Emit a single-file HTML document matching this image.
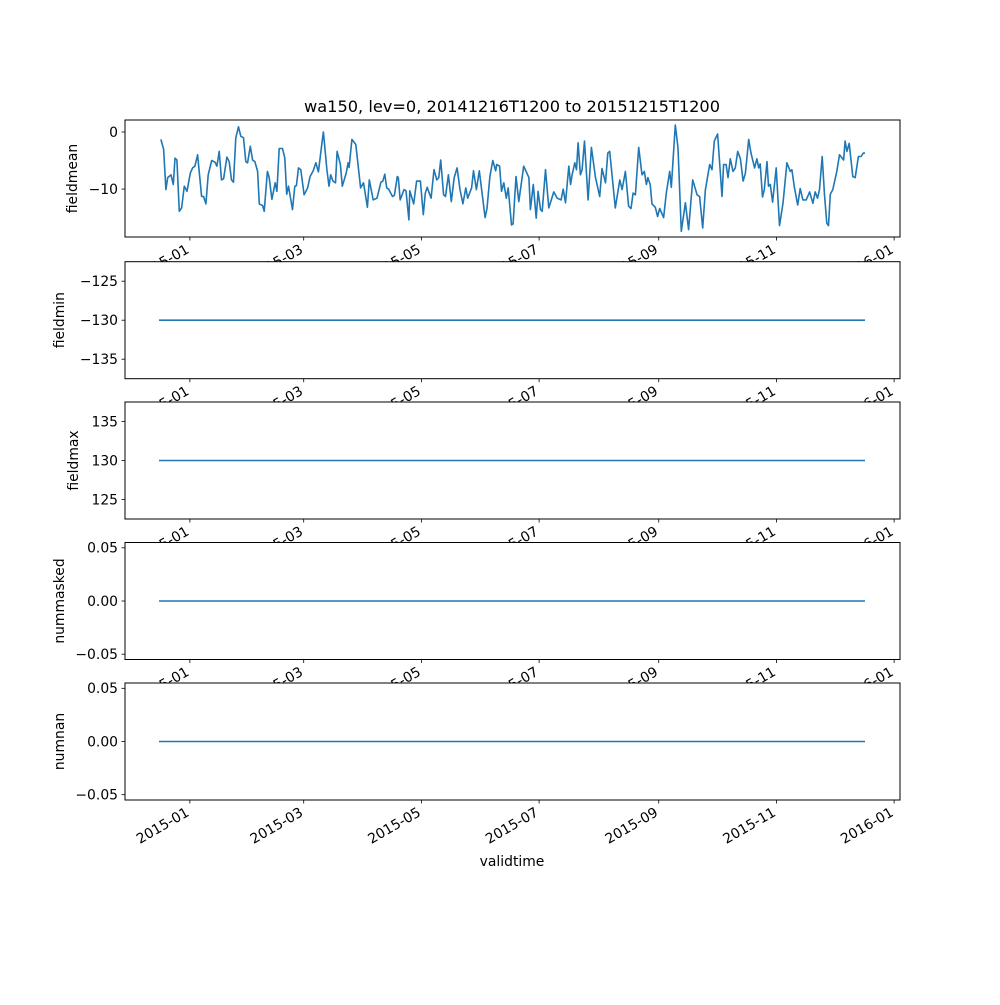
<!DOCTYPE html>
<html><head><meta charset="utf-8"><style>
html,body{margin:0;padding:0;background:#fff}
svg text{font-family:"DejaVu Sans","Liberation Sans",sans-serif;fill:#000}
</style></head><body>
<svg id="fig" width="1000" height="1000" viewBox="0 0 1000 1000">
<rect width="1000" height="1000" fill="#fff"/>
<text x="512" y="112" font-size="16.2" text-anchor="middle">wa150, lev=0, 20141216T1200 to 20151215T1200</text>
</svg>
<script>
// day offsets from 2014-12-16 and fieldmean values
const meanDays=[1,2.4,3.6,4.5,6.2,7.4,8.3,9.3,10.5,11.7,13.1,14.5,16.2,17.4,18.6,20,22.1,23.1,24.3,25.5,27.3,29,30,31.2,32.4,33.5,35.2,36.4,37.6,38.6,39.8,41.2,42.4,43.8,45,45.9,47.3,48.5,49.7,51.1,52,53.7,54.5,56.2,57.1,58.5,60.2,61.1,62.3,64,65.2,66.2,67.1,69.2,70.4,71.2,72.3,73.5,75.2,77,78.3,79.9,81.3,82.6,84.7,85.2,87,88.1,89,90.2,91.5,92.3,94,95,97,98,98.5,100,102,104.5,106,108,109,111,113,115,116,117,118,119,121,122,123.5,124,125,127,128,129.5,130,132,133.5,135.5,137,138,139,141,142.5,144,145,146,147.5,148.5,150,151.5,153,154.5,156,157.5,159,160,162,163,164.5,166,169,170,171.5,173,174.5,175,176.5,177.5,178.7,180,181,182.7,183.5,185,186.5,189,191.7,192.5,194,195.5,196.5,197.7,198.6,200.3,202,204.6,206.4,208.4,209.5,210.7,212.4,213.3,214.1,215.5,216.4,217.2,218.4,219.3,220.5,222.4,224.1,226.2,228.4,229.6,231.4,232.6,233.6,236.5,238.8,240,241.7,243.4,244.6,245.7,246.9,248.6,250.3,251.5,252.6,253.4,254.6,255.5,257.2,258.4,259.5,261.5,262.9,264.7,265.5,267.6,269,270.7,272.8,274.5,276.6,278.9,280.2,281.8,283.2,285.4,286.6,287.8,289.5,291.8,292.6,293.9,294.9,296.1,297.5,298.7,299.9,301.3,302.7,303.9,305.6,306.8,308.7,309.9,310.8,311.6,312.8,313.7,315.1,315.9,316.8,318,319.9,321.6,323.4,325.4,327.2,328,329.2,331,332.3,333.7,335.4,337.2,338.9,340.1,341.3,342.3,343.7,344.9,346.1,347,347.9,349.2,351.3,352.7,354.8,355.6,356.5,357.7,359.6,360.8,362.5,363.9,365,365.9];
const meanVals=[-1.3,-3,-10.1,-8,-7.5,-9.2,-4.6,-4.9,-13.9,-13.3,-9.5,-10.4,-7.2,-6.3,-6,-4,-11.3,-11.3,-12.6,-7.5,-5,-5.3,-6,-3.4,-8.4,-8.2,-4.4,-5.2,-8.4,-8.8,-1,0.9,-0.75,-1,-5.2,-5.4,-2.5,-4.9,-5.2,-6.9,-12.6,-12.9,-13.9,-6.9,-8,-11.8,-8.9,-10.4,-2.9,-2.9,-4.6,-10.9,-9.5,-13.6,-9.5,-9.4,-6.3,-6.6,-11,-9.8,-7.8,-6.8,-5.4,-7,-1.3,0,-6.6,-9.5,-7.5,-8.6,-8.9,-3.4,-5.7,-9.5,-7.2,-5.4,-6.2,-1.3,-2.2,-9.8,-8.9,-13.2,-8.4,-11.9,-11.6,-8.8,-8.6,-7.4,-9.8,-10,-11.3,-11.1,-7.8,-8,-11.9,-10.1,-10.3,-15.4,-10.3,-12.6,-8.6,-8.6,-14.5,-10.7,-9.7,-11.6,-6.6,-8.4,-8,-4.9,-11,-11.3,-7.5,-12.2,-8,-6.3,-10.1,-12.6,-9.8,-11.6,-9.8,-6.8,-10.1,-6.8,-15,-13.4,-7.8,-5,-6.8,-5.7,-6,-10.4,-8.9,-11.6,-9.8,-16.3,-16.1,-7.8,-12.2,-6,-8,-13.6,-9.2,-15.1,-10.4,-13.6,-13.9,-6.6,-13.3,-10.5,-11.6,-11.9,-10,-12.4,-6,-9.2,-7.5,-5.4,-6.6,-1.9,-7.5,-6.6,-1.6,-11.9,-2.7,-8,-11.3,-6.4,-8.9,-3.7,-3.4,-13.3,-8.4,-10.1,-6.9,-13,-13.4,-10.7,-11,-2.7,-7.5,-6.9,-9.2,-8,-9.2,-12.6,-13.2,-14.8,-13.4,-15,-10.7,-6.9,-9.7,1.2,-2.8,-17.4,-12.4,-17.1,-8.4,-11,-11.3,-16.8,-10.1,-5.7,-6.6,-1.6,-0.35,-11.3,-5.7,-5.7,-8,-4.7,-6.9,-6.3,-3.4,-4.7,-8.6,-7.2,-1.3,-3.7,-6.3,-4.7,-6.3,-5.6,-11.4,-10.1,-5.2,-9.5,-9.2,-12.3,-6.3,-16.4,-12.5,-5.4,-6.9,-6.6,-9.5,-12.8,-9.9,-11.9,-11.9,-10.5,-12.5,-10.5,-11.6,-10.1,-4.3,-11,-16,-16.4,-10.9,-10.1,-6.9,-4,-4.9,-1.6,-3.4,-2,-7.8,-8,-4.3,-4.3,-3.7,-3.7];
const constVals=[-130,130,0,0];
const constDays=[0,365.9];
const panelNames=["fieldmean","fieldmin","fieldmax","nummasked","numnan"];
const panelYmin=[-18.4,-137.5,122.5,-0.055,-0.055];
const panelYmax=[2.1,-122.5,137.5,0.055,0.055];
const yTicks=[[0,-10],[-125,-130,-135],[135,130,125],[0.05,0,-0.05],[0.05,0,-0.05]];
const yTickLabels=[["0","−10"],["−125","−130","−135"],["135","130","125"],["0.05","0.00","−0.05"],["0.05","0.00","−0.05"]];
const xTickDays=[16,75,136,197,259,320,381];
const xTickLabels=["2015-01","2015-03","2015-05","2015-07","2015-09","2015-11","2016-01"];

const NS="http://www.w3.org/2000/svg";
const svg=document.getElementById('fig');
const L=125,R=900,tops=[120,261.7,402,542.5,683],H=117;
const xs=d=>L+34+(d)*(706/365.9);
function mk(t,a,p){const e=document.createElementNS(NS,t);for(const k in a)e.setAttribute(k,a[k]);(p||svg).appendChild(e);return e;}
panelNames.forEach((nm,i)=>{
  const g=mk('g',{});
  
  
  const T=tops[i],B=T+H;
  const ys=v=>B-(v-panelYmin[i])/(panelYmax[i]-panelYmin[i])*H;
  mk('rect',{x:L,y:T,width:R-L,height:H,fill:'#fff'},g);
  let pts;
  if(i===0) pts=meanDays.map((d,k)=>xs(d).toFixed(1)+','+ys(meanVals[k]).toFixed(1));
  else pts=constDays.map(d=>xs(d).toFixed(1)+','+ys(constVals[i-1]).toFixed(1));
  const pl=mk('polyline',{points:pts.join(' '),fill:'none',stroke:'#1f77b4','stroke-width':1.6,'stroke-linejoin':'round'},g);
  
  
  mk('rect',{x:L,y:T,width:R-L,height:H,fill:'none',stroke:'#000','stroke-width':1},g);
  yTicks[i].forEach((v,k)=>{
    const y=ys(v);
    mk('line',{x1:L-3.5,x2:L,y1:y,y2:y,stroke:'#000','stroke-width':0.8},g);
    const t=mk('text',{x:L-7,y:y+4.8,'font-size':13.9,'text-anchor':'end'},g);
    t.textContent=yTickLabels[i][k];
    
    
  });
  const lab=mk('text',{'font-size':13.9,'text-anchor':'middle',transform:`translate(${i===0?77:i===2?78:64},${T+H/2}) rotate(-90)`},g);
  lab.textContent=nm;
  
  
  xTickDays.forEach((d,k)=>{
    const x=xs(d);
    mk('line',{x1:x,x2:x,y1:B,y2:B+3.5,stroke:'#000','stroke-width':0.8},g);
    const t=mk('text',{'font-size':13.9,'text-anchor':'end',dy:'0.75em',transform:`translate(${x-5},${B+6}) rotate(-30)`},g);
    t.textContent=xTickLabels[k];
    
    
  });
});
const xl=mk('text',{x:512,y:866,'font-size':13.9,'text-anchor':'middle'});
xl.textContent='validtime';


</script>
</body></html>
